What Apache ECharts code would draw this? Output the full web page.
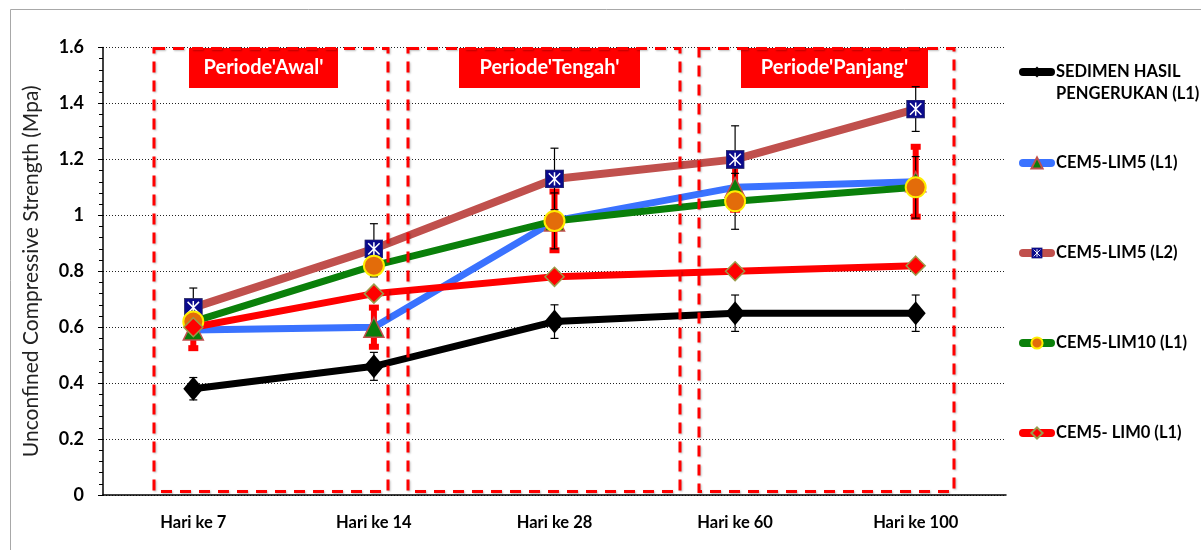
<!DOCTYPE html>
<html>
<head>
<meta charset="utf-8">
<title>Unconfined Compressive Strength</title>
<script src="https://cdn.jsdelivr.net/npm/echarts@6/dist/echarts.min.js"></script>
<style>
  html, body { margin: 0; padding: 0; background: #fff; }
  #chart { width: 1201px; height: 550px; }
</style>
</head>
<body>
<div id="chart"></div>
<script>
// categories + values
const days = ['Hari ke 7', 'Hari ke 14', 'Hari ke 28', 'Hari ke 60', 'Hari ke 100']

const sedimen = [0.38, 0.46, 0.62, 0.65, 0.65]
const sedimenErr = [0.04, 0.05, 0.06, 0.065, 0.065]
const lim5L1 = [0.59, 0.60, 0.98, 1.10, 1.12]
const lim5L1Err = [0.065, 0.07, 0.105, 0.08, 0.125]
const lim5L2 = [0.67, 0.88, 1.13, 1.20, 1.38]
const lim5L2Err = [0.07, 0.09, 0.11, 0.12, 0.08]
const lim10 = [0.62, 0.82, 0.98, 1.05, 1.10]
const lim10Err = [0.03, 0.04, 0.10, 0.10, 0.11]
const lim0 = [0.60, 0.72, 0.78, 0.80, 0.82]

const names = [
  'SEDIMEN HASIL PENGERUKAN (L1)',
  'CEM5-LIM5 (L1)',
  'CEM5-LIM5 (L2)',
  'CEM5-LIM10 (L1)',
  'CEM5- LIM0 (L1)',
]
const periods = ["Periode'Awal'", "Periode'Tengah'", "Periode'Panjang'"]

const FONT = 'Lato'

// navy square with white cross
const squareX = 'image://data:image/svg+xml;charset=utf-8,' + encodeURIComponent(
  "<svg xmlns='http://www.w3.org/2000/svg' width='20' height='20'>" +
  "<rect x='0.5' y='0.5' width='19' height='19' fill='#0a0a8c' stroke='#333366'/>" +
  "<path d='M4 4L16 16M16 4L4 16M10 3V17' stroke='#ffffff' stroke-width='1.6'/></svg>"
)

function errSeries(name, vals, errs, color, width, cap) {
  return {
    type: 'custom',
    name: name,
    z: 1,
    silent: true,
    data: vals.map((v, i) => [i, v - errs[i], v + errs[i]]),
    encode: { x: 0, y: [1, 2] },
    renderItem(params, api) {
      const lo = api.coord([api.value(0), api.value(1)])
      const hi = api.coord([api.value(0), api.value(2)])
      const style = { stroke: color, lineWidth: width }
      return {
        type: 'group',
        children: [
          { type: 'line', shape: { x1: lo[0], y1: lo[1], x2: hi[0], y2: hi[1] }, style },
          { type: 'line', shape: { x1: lo[0] - cap / 2, y1: lo[1], x2: lo[0] + cap / 2, y2: lo[1] }, style },
          { type: 'line', shape: { x1: hi[0] - cap / 2, y1: hi[1], x2: hi[0] + cap / 2, y2: hi[1] }, style },
        ],
      }
    },
  }
}

function lineSeries(name, data, color, width, symbol, size, itemStyle) {
  return {
    name: name,
    type: 'line',
    data: data,
    z: 3,
    symbol: symbol,
    symbolSize: size,
    lineStyle: { color: color, width: width },
    itemStyle: itemStyle,
  }
}

// first entry gets an empty leading line so the icon lines up with "SEDIMEN HASIL"
const legendTops = [39, 152, 242, 332, 422]

const boxes = [[154, 388], [408, 680], [699, 954]]
const labelBoxes = [[189, 149], [459, 181], [741, 187]]

const graphic = [
  {
    type: 'rect', left: 8, top: 7, silent: true,
    shape: { width: 1250, height: 600 },
    style: { fill: 'none', stroke: '#a8a8a8', lineWidth: 1 },
  },
]
boxes.forEach((b) => {
  graphic.push({
    type: 'rect', silent: true, z: 50,
    shape: { x: b[0], y: 48.5, width: b[1] - b[0], height: 443 },
    style: {
      fill: 'none', stroke: '#ff0000', lineWidth: 3, lineDash: [11, 8],
      shadowColor: 'rgba(0,0,0,0.25)', shadowBlur: 2, shadowOffsetX: 1, shadowOffsetY: 1,
    },
  })
})
labelBoxes.forEach((b, i) => {
  graphic.push({
    type: 'group', z: 60, left: b[0], top: 48,
    children: [
      { type: 'rect', shape: { width: b[1], height: 40 }, style: { fill: '#ff0000' } },
      {
        type: 'text', x: b[1] / 2, y: 20,
        style: {
          text: periods[i], fill: '#fff', font: 'bold 20px ' + FONT,
          align: 'center', verticalAlign: 'middle',
        },
      },
    ],
  })
})

const option = {
  animation: false,
  backgroundColor: '#fff',
  grid: { left: 103, top: 47.5, width: 903, height: 447.5 },
  legend: names.map((n, i) => ({
    data: [n],
    left: 1019,
    top: legendTops[i],
    padding: 0,
    itemWidth: 28,
    itemHeight: 14,
    selectedMode: false,
    lineStyle: { width: 8, cap: 'round' },
    formatter: (s) => s.replace('SEDIMEN HASIL ', '\nSEDIMEN HASIL\n'),
    textStyle: {
      fontFamily: FONT, fontWeight: 'bold', fontSize: 16.5, color: '#000', lineHeight: 22,
    },
  })),
  xAxis: [
    {
      type: 'category',
      data: days,
      axisLine: { lineStyle: { color: '#000', width: 1.5 } },
      axisTick: { length: 5, lineStyle: { color: '#000' } },
      axisLabel: { color: '#000', fontFamily: FONT, fontWeight: 'bold', fontSize: 16.5, margin: 19 },
    },
    {
      // extra ticks under each day label
      type: 'category',
      data: days,
      position: 'bottom',
      axisLine: { show: false },
      axisTick: { alignWithLabel: true, length: 5, lineStyle: { color: '#000' } },
      axisLabel: { show: false },
    },
  ],
  yAxis: {
    type: 'value',
    min: 0,
    max: 1.6,
    interval: 0.2,
    name: 'Unconfined Compressive Strength (Mpa)',
    nameLocation: 'middle',
    nameGap: 61,
    nameTextStyle: { color: '#222', fontFamily: FONT, fontSize: 21 },
    axisLine: { show: true, lineStyle: { color: '#000', width: 1.5 } },
    axisTick: { show: true, length: 5, lineStyle: { color: '#000' } },
    minorTick: { show: true, splitNumber: 5, length: 4, lineStyle: { color: '#000' } },
    axisLabel: { color: '#000', fontFamily: FONT, fontWeight: 'bold', fontSize: 18, margin: 19 },
    splitLine: { lineStyle: { color: '#222', type: [1, 2], width: 1 } },
  },
  graphic: graphic,
  series: [
    errSeries('err0', sedimen, sedimenErr, '#000', 1.2, 8),
    errSeries('err1', lim5L1, lim5L1Err, '#ff0000', 6, 10),
    errSeries('err2', lim5L2, lim5L2Err, '#000', 1.2, 8),
    errSeries('err3', lim10, lim10Err, '#000', 1.2, 8),
    lineSeries(names[0], sedimen, '#000000', 7, 'diamond', [20, 24],
      { color: '#000000' }),
    lineSeries(names[1], lim5L1, '#3a72ff', 7, 'triangle', 20,
      { color: '#0a7d0a', borderColor: '#c0504d', borderWidth: 1.5 }),
    lineSeries(names[2], lim5L2, '#c0504d', 8, squareX, 19,
      { color: '#0a0a8c' }),
    lineSeries(names[3], lim10, '#0a800a', 7, 'circle', 20,
      { color: '#e36c0a', borderColor: '#ffee00', borderWidth: 2 }),
    lineSeries(names[4], lim0, '#ff0000', 7, 'diamond', 19,
      { color: '#ff0000', borderColor: '#9b9b4a', borderWidth: 1.5 }),
  ],
}

const chart = echarts.init(document.getElementById('chart'))
chart.setOption(option)
</script>
</body>
</html>
